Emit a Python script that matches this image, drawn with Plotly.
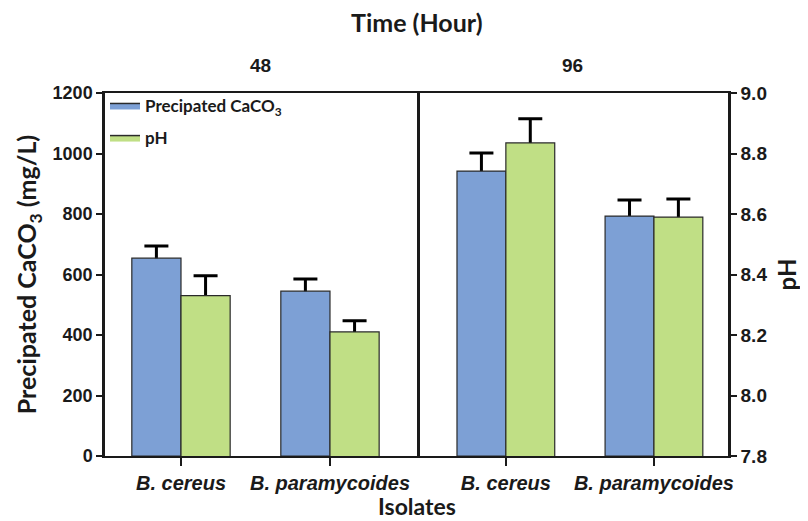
import plotly.graph_objects as go

# ---- data ----
isolates = ["B. cereus", "B. paramycoides"]
times = ["48", "96"]
caco3_48 = [654, 545]
caco3_48_err = [40, 40]
ph_48 = [8.33, 8.21]
ph_48_err = [0.066, 0.037]
caco3_96 = [942, 793]
caco3_96_err = [60, 53]
ph_96 = [8.835, 8.59]
ph_96_err = [0.08, 0.06]
caco3_ticks = [0, 200, 400, 600, 800, 1000, 1200]
ph_ticks = [7.8, 8.0, 8.2, 8.4, 8.6, 8.8, 9.0]

BLUE = "#7DA0D5"
GREEN = "#C0DF85"
EDGE = "#2a2a2a"
INK = "#1a1a1a"
BW = 0.33
TITLE_FONT = "Lato, 'Open Sans', sans-serif"
ARIAL = "Arial, 'Liberation Sans', sans-serif"


def err(vals):
    return dict(type="data", array=vals, symmetric=True,
                color="black", thickness=3, width=12, visible=True)


fig = go.Figure()


def add_pair(xa, caco3, caco3_err, ph, ph_err):
    # error bars first (invisible bars), the real bars are drawn over the lower halves
    fig.add_trace(go.Bar(x=isolates, y=caco3, xaxis=xa, yaxis="y", width=BW, offset=-BW,
                         marker=dict(color="rgba(0,0,0,0)", line=dict(width=0)),
                         error_y=err(caco3_err), showlegend=False, hoverinfo="skip"))
    fig.add_trace(go.Bar(x=isolates, y=caco3, xaxis=xa, yaxis="y", width=BW, offset=-BW,
                         marker=dict(color=BLUE, line=dict(color=EDGE, width=1.2)),
                         showlegend=False))
    fig.add_trace(go.Bar(x=isolates, y=ph, xaxis=xa, yaxis="y2", width=BW, offset=0,
                         marker=dict(color="rgba(0,0,0,0)", line=dict(width=0)),
                         error_y=err(ph_err), showlegend=False, hoverinfo="skip"))
    fig.add_trace(go.Bar(x=isolates, y=ph, xaxis=xa, yaxis="y2", width=BW, offset=0,
                         marker=dict(color=GREEN, line=dict(color=EDGE, width=1.2)),
                         showlegend=False))


add_pair("x", caco3_48, caco3_48_err, ph_48, ph_48_err)
add_pair("x2", caco3_96, caco3_96_err, ph_96, ph_96_err)

# legend entries (rectangular swatches)
fig.add_trace(go.Scatter(x=[None], y=[None], mode="lines", fill="toself", fillcolor=BLUE,
                         line=dict(color=EDGE, width=1.5), name="Precipated CaCO<sub>3</sub>",
                         legendgroup="a", xaxis="x", yaxis="y"))
fig.add_trace(go.Scatter(x=[None], y=[None], mode="lines", fill="toself", fillcolor=GREEN,
                         line=dict(color=EDGE, width=1.5), name="pH",
                         legendgroup="b", xaxis="x", yaxis="y"))

xcommon = dict(type="category", showline=True, linecolor=INK, linewidth=2, mirror=True,
               ticks="outside", ticklen=8, tickwidth=2, tickcolor=INK,
               tickfont=dict(family=ARIAL, size=20, color=INK, weight="bold", style="italic"),
               showgrid=False, zeroline=False)

# page has an 8px body margin, so the figure is 8px smaller and margins shifted
fig.update_layout(
    width=800, height=513,
    margin=dict(l=97, r=80, t=85, b=65, autoexpand=False),
    paper_bgcolor="white", plot_bgcolor="white",
    barmode="overlay",
    xaxis=dict(domain=[0, 0.5008], anchor="y", range=[-0.51, 1.584], **xcommon),
    xaxis2=dict(domain=[0.5008, 1], anchor="y", range=[-0.60, 1.50], **xcommon),
    yaxis=dict(range=[0, 1200], tickvals=caco3_ticks, anchor="x", showline=True,
               linecolor=INK, linewidth=2.5, mirror=True, ticks="outside", ticklen=6,
               tickwidth=2, tickcolor=INK, showgrid=False, zeroline=False,
               tickfont=dict(family=ARIAL, size=18, color=INK, weight="bold"),
               title=dict(text="Precipated CaCO<sub>3</sub> (mg/L)", standoff=9,
                          font=dict(family=TITLE_FONT, size=25, color=INK, weight="bold"))),
    yaxis2=dict(range=[7.8, 9.0], tickvals=ph_ticks, ticktext=[f"{v:.1f}" for v in ph_ticks],
                overlaying="y", side="right", anchor="x2", showline=True,
                linecolor=INK, linewidth=2.5, ticks="outside", ticklen=6, tickwidth=2,
                tickcolor=INK, showgrid=False, zeroline=False,
                tickfont=dict(family=ARIAL, size=19, color=INK, weight="bold"),
                title=dict(text="pH", standoff=13,
                           font=dict(family=TITLE_FONT, size=24, color=INK, weight="bold"))),
    legend=dict(x=0.0, y=1.014, xanchor="left", yanchor="top", traceorder="grouped",
                tracegroupgap=7, bgcolor="rgba(0,0,0,0)",
                font=dict(family=TITLE_FONT, size=17, color=INK, weight="bold")),
    annotations=[
        dict(text="Time (Hour)", x=0.5, y=1.196, xref="paper", yref="paper", showarrow=False,
             xanchor="center", yanchor="middle",
             font=dict(family=TITLE_FONT, size=25, color=INK, weight="bold")),
        dict(text=times[0], x=0.25, y=1.075, xref="paper", yref="paper", showarrow=False,
             xanchor="center", yanchor="middle",
             font=dict(family=ARIAL, size=19, color=INK, weight="bold")),
        dict(text=times[1], x=0.75, y=1.075, xref="paper", yref="paper", showarrow=False,
             xanchor="center", yanchor="middle",
             font=dict(family=ARIAL, size=19, color=INK, weight="bold")),
        dict(text="Isolates", x=0.5, y=-0.138, xref="paper", yref="paper", showarrow=False,
             xanchor="center", yanchor="middle",
             font=dict(family=TITLE_FONT, size=23, color=INK, weight="bold")),
    ],
)

fig.write_html("out.html")
